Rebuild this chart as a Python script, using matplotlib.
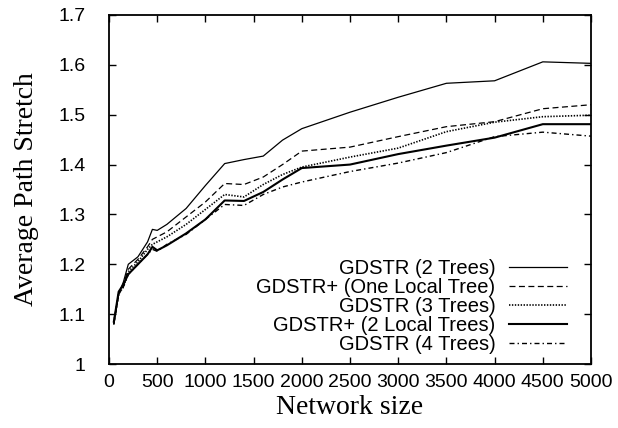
import matplotlib
matplotlib.use("Agg")
import matplotlib.pyplot as plt

# network sizes sampled in the experiment
sizes = [50, 100, 150, 200, 300, 400, 450, 500, 600, 800, 1000,
         1200, 1400, 1600, 1800, 2000, 2500, 3000, 3500, 4000, 4500, 5000]

gdstr_2 = [1.08, 1.14, 1.165, 1.20, 1.215, 1.245, 1.27, 1.268, 1.28, 1.312, 1.358,
           1.402, 1.41, 1.417, 1.449, 1.472, 1.505, 1.535, 1.563, 1.568, 1.606, 1.603]
gdstrp_1 = [1.08, 1.14, 1.16, 1.19, 1.21, 1.235, 1.25, 1.255, 1.265, 1.295, 1.325,
            1.362, 1.36, 1.375, 1.40, 1.427, 1.435, 1.456, 1.476, 1.486, 1.512, 1.52]
gdstr_3 = [1.085, 1.14, 1.155, 1.185, 1.205, 1.23, 1.24, 1.245, 1.255, 1.28, 1.31,
           1.34, 1.335, 1.36, 1.38, 1.395, 1.415, 1.433, 1.466, 1.485, 1.496, 1.499]
gdstrp_2 = [1.085, 1.145, 1.16, 1.18, 1.20, 1.22, 1.235, 1.228, 1.238, 1.262, 1.29,
            1.328, 1.327, 1.345, 1.37, 1.393, 1.40, 1.421, 1.438, 1.454, 1.481, 1.481]
gdstr_4 = [1.08, 1.14, 1.155, 1.18, 1.20, 1.22, 1.23, 1.226, 1.24, 1.26, 1.29,
           1.32, 1.318, 1.34, 1.355, 1.365, 1.386, 1.403, 1.424, 1.456, 1.465, 1.457]

labels = ["GDSTR (2 Trees)", "GDSTR+ (One Local Tree)", "GDSTR (3 Trees)",
          "GDSTR+ (2 Local Trees)", "GDSTR (4 Trees)"]

plt.rcParams["lines.scale_dashes"] = False
plt.rcParams["font.family"] = ["Liberation Sans", "DejaVu Sans"]

fig = plt.figure(figsize=(6.18, 4.28), dpi=100)
ax = fig.add_axes([0.1764, 0.1495, 0.7799, 0.8155])

series = [gdstr_2, gdstrp_1, gdstr_3, gdstrp_2, gdstr_4]
styles = [
    dict(lw=0.9, ls="-"),
    dict(lw=0.9, ls=(0, (4.3, 2.5))),
    dict(lw=1.2, ls=(0, (1.0, 1.1))),
    dict(lw=1.5, ls="-"),
    dict(lw=1.0, ls=(0, (3.6, 2.2, 1.0, 2.2))),
]
for vals, lab, st in zip(series, labels, styles):
    ax.plot(sizes, vals, color="black", label=lab, **st)

ax.set_xlim(0, 5000)
ax.set_ylim(1, 1.7)
ax.set_xticks(range(0, 5001, 500))
ax.set_yticks([1, 1.1, 1.2, 1.3, 1.4, 1.5, 1.6, 1.7])
ax.set_yticklabels(["1", "1.1", "1.2", "1.3", "1.4", "1.5", "1.6", "1.7"])

ax.tick_params(direction="in", length=5, width=1.0, labelsize=14,
               top=True, right=True)
ax.tick_params(axis="x", pad=7)
ax.tick_params(axis="y", pad=17)
for sp in ax.spines.values():
    sp.set_linewidth(1.3)

ax.set_xlabel("Network size", family="Liberation Serif", fontsize=20, labelpad=3)
ax.set_ylabel("Average Path Stretch", family="Liberation Serif", fontsize=20, labelpad=14)

ax.legend(loc="lower right", bbox_to_anchor=(0.950, 0.028), frameon=False,
          markerfirst=False, fontsize=14.5, handlelength=2.85, handletextpad=0.7,
          labelspacing=0.0, borderaxespad=0.0, borderpad=0.0)

fig.savefig("out.png", dpi=100)
